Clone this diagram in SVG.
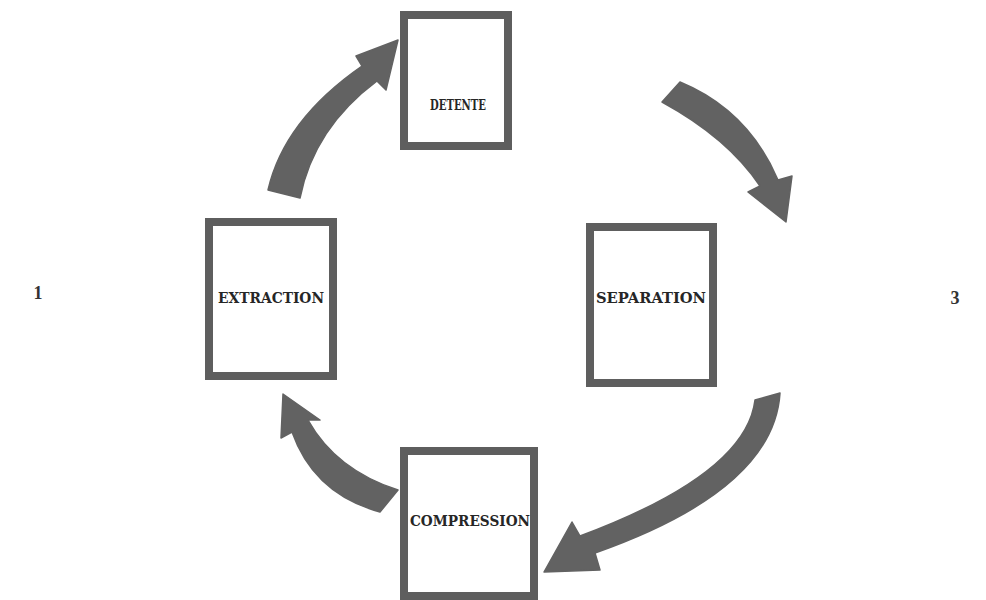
<svg xmlns="http://www.w3.org/2000/svg" width="986" height="600" viewBox="0 0 986 600">
<style>
.box{fill:#fff;stroke:#5e5e5e;stroke-width:8}
.lbl{font-family:"DejaVu Serif","Liberation Serif",serif;font-weight:bold;font-size:14px;fill:#262626;text-anchor:middle}
.num{font-family:"Liberation Serif",serif;font-weight:bold;font-size:18px;fill:#333;text-anchor:middle}
.arr{fill:#626262;stroke:#626262;stroke-width:1.5;stroke-linejoin:round}
</style>
<rect width="986" height="600" fill="#fff"/>
<g id="connectors">
<path class="arr" d="M268,190 Q284,120 362,66 L356,56 L398,40 L386,90 L377,81 Q314,128 300,198 Z"/>
<path class="arr" d="M680,82 Q748,110 778,180 L792,176 L786,222 L748,192 L760,186 Q728,138 662,102 Z"/>
<path class="arr" d="M780,393 Q774,490 595,553 L600,570 L544,572 L572,522 L580,536 Q746,474 755,400 Z"/>
<path class="arr" d="M380,512 Q314,494 292,432 L281,438 L283,394 L320,420 L308,420 Q336,470 398,490 Z"/>
</g>
<g id="detente"><rect class="box" x="404" y="15" width="104" height="131"/><text class="lbl" x="458" y="110" textLength="56" lengthAdjust="spacingAndGlyphs">DETENTE</text></g>
<g id="extraction"><rect class="box" x="209" y="222" width="124" height="154"/><text class="lbl" x="271" y="303" textLength="106" lengthAdjust="spacingAndGlyphs">EXTRACTION</text></g>
<g id="separation"><rect class="box" x="590" y="227" width="123" height="156"/><text class="lbl" x="651" y="303" textLength="110" lengthAdjust="spacingAndGlyphs">SEPARATION</text></g>
<g id="compression"><rect class="box" x="404" y="451" width="130" height="145"/><text class="lbl" x="470" y="526" textLength="120" lengthAdjust="spacingAndGlyphs">COMPRESSION</text></g>
<text class="num" x="38" y="299">1</text>
<text class="num" x="955" y="304">3</text>
</svg>
